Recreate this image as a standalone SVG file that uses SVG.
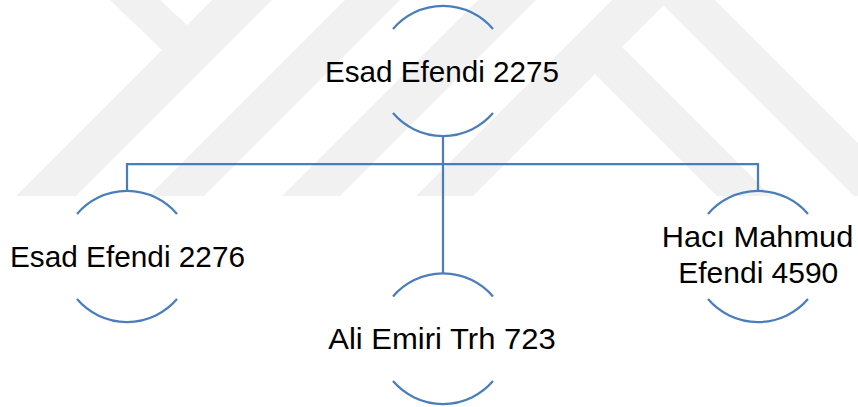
<svg xmlns="http://www.w3.org/2000/svg" width="858" height="407" viewBox="0 0 858 407">
  <style>
    .wm { fill: #f1f1f1; stroke: none; }
    .arc { fill: none; stroke: #4a7ebb; stroke-width: 2.25; }
    .conn { fill: none; stroke: #4a7ebb; stroke-width: 2.25; }
    .lbl { font-family: "Liberation Sans", "Noto Sans", sans-serif; font-size: 30px; fill: #000000; text-anchor: middle; }
  </style>
  <rect x="0" y="0" width="858" height="407" fill="#ffffff"/>
  <g id="watermark">
    <polygon class="wm" points="212,0 272,0 76,196 16,196"/>
    <polygon class="wm" points="110,0 160,0 190,28 165,53"/>
    <polygon class="wm" points="345,0 400,0 204,196 149,196"/>
    <polygon class="wm" points="478,0 536,0 340,196 282,196"/>
    <polygon class="wm" points="416,196 612,0 715,0 858,143 858,196 854,196 663.5,5.5 473,196"/>
    <polygon class="wm" points="607.5,32.5 771,196 717,196 580.5,59.5"/>
  </g>
  <g id="connectors">
    <path class="conn" d="M443,136 V273.5"/>
    <path class="conn" d="M127,191 V164 H758 V191"/>
  </g>
  <g id="node-esad-2275">
    <path class="arc" d="M393,29 A65.8,65.8 0 0 1 493,29"/>
    <path class="arc" d="M393,113 A65.8,65.8 0 0 0 493,113"/>
    <text class="lbl" x="442" y="81.5" textLength="234" lengthAdjust="spacingAndGlyphs">Esad Efendi 2275</text>
  </g>
  <g id="node-esad-2276">
    <path class="arc" d="M77,214 A65.8,65.8 0 0 1 177,214"/>
    <path class="arc" d="M77,299 A65.8,65.8 0 0 0 177,299"/>
    <text class="lbl" x="127.5" y="267.3" textLength="235" lengthAdjust="spacingAndGlyphs">Esad Efendi 2276</text>
  </g>
  <g id="node-ali-emiri">
    <path class="arc" d="M393,296.5 A65.8,65.8 0 0 1 493,296.5"/>
    <path class="arc" d="M393,381 A65.8,65.8 0 0 0 493,381"/>
    <text class="lbl" x="442" y="349.3" textLength="227.5" lengthAdjust="spacingAndGlyphs">Ali Emiri Trh 723</text>
  </g>
  <g id="node-haci-mahmud">
    <path class="arc" d="M708,214 A65.8,65.8 0 0 1 808,214"/>
    <path class="arc" d="M708,299 A65.8,65.8 0 0 0 808,299"/>
    <text class="lbl" x="757.5" y="247.3" textLength="191.5" lengthAdjust="spacingAndGlyphs">Hacı Mahmud</text>
    <text class="lbl" x="758.3" y="283.3" textLength="160" lengthAdjust="spacingAndGlyphs">Efendi 4590</text>
  </g>
</svg>
